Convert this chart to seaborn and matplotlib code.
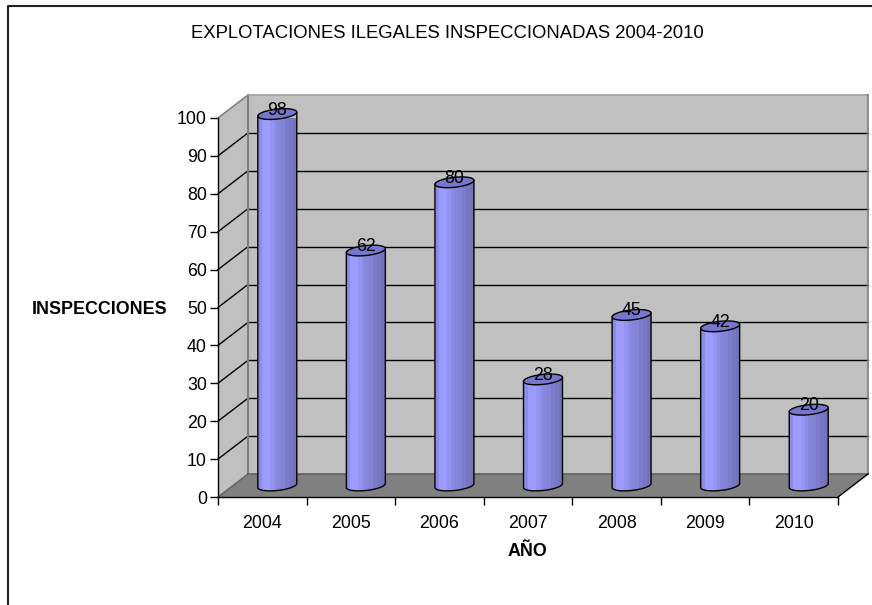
import numpy as np
import seaborn as sns
import matplotlib.pyplot as plt
from matplotlib.lines import Line2D
from matplotlib.patches import Polygon
from matplotlib.transforms import IdentityTransform

years = ["2004", "2005", "2006", "2007", "2008", "2009", "2010"]
values = [98, 62, 80, 28, 45, 42, 20]
y_ticks = list(range(0, 101, 10))

title = "EXPLOTACIONES ILEGALES INSPECCIONADAS 2004-2010"
xlabel = "AÑO"
ylabel = "INSPECCIONES"

W, H = 872, 605
DX, DY = 30, 23  # depth of the fake 3d box, pixels
LEFT, RIGHT, BOTTOM, TOP = 218, 838, 497, 118  # front plane, image pixels

sns.set_style("white")
plt.rcParams["font.family"] = ["Liberation Sans", "DejaVu Sans"]
plt.rcParams["font.size"] = 12
plt.rcParams["text.color"] = "black"
plt.rcParams["xtick.color"] = "black"
plt.rcParams["ytick.color"] = "black"

fig = plt.figure(figsize=(W / 100, H / 100), dpi=100)
ax = fig.add_axes([LEFT / W, 1 - BOTTOM / H, (RIGHT - LEFT) / W, (BOTTOM - TOP) / H])
ax.patch.set_alpha(0)


def px(x, y):
    # image pixels (y down) to display coords
    return (x, H - y)


def poly(points, **kw):
    p = Polygon([px(*q) for q in points], closed=True, transform=IdentityTransform(),
                clip_on=False, **kw)
    ax.add_patch(p)
    return p


def line(x0, y0, x1, y1, color="black", lw=1.0, zorder=1):
    ax.plot([x0, x1], [H - y0, H - y1], transform=IdentityTransform(), color=color,
            lw=lw, clip_on=False, zorder=zorder, solid_capstyle="projecting")


sns.barplot(x=years, y=values, width=0.44, color="#9999ff", saturation=1, ax=ax, zorder=3)
ax.set_xlim(-0.5, 6.5)
ax.set_ylim(0, 100)

# walls and floor
wall = "#c0c0c0"
poly([(LEFT, BOTTOM), (LEFT, TOP), (LEFT + DX, TOP - DY), (LEFT + DX, BOTTOM - DY)],
     facecolor=wall, edgecolor="none", zorder=0)
poly([(LEFT + DX, BOTTOM - DY), (LEFT + DX, TOP - DY), (RIGHT + DX, TOP - DY), (RIGHT + DX, BOTTOM - DY)],
     facecolor=wall, edgecolor="none", zorder=0)
poly([(LEFT, BOTTOM), (LEFT + DX, BOTTOM - DY), (RIGHT + DX, BOTTOM - DY), (RIGHT, BOTTOM)],
     facecolor="#808080", edgecolor="none", zorder=0)

# gridlines on both walls
for v in y_ticks[1:-1]:
    yy = BOTTOM - (BOTTOM - TOP) * v / 100
    line(LEFT, yy, LEFT + DX, yy - DY, zorder=1)
    line(LEFT + DX, yy - DY, RIGHT + DX, yy - DY, zorder=1)

# box edges
edge = "#808080"
line(LEFT + DX, BOTTOM - DY, LEFT + DX, TOP - DY, color=edge, lw=1.5, zorder=2)
line(LEFT, TOP, LEFT + DX, TOP - DY, color=edge, lw=1.2, zorder=2)
line(LEFT + DX, TOP - DY, RIGHT + DX, TOP - DY, color="#a0a0a0", lw=1.2, zorder=2)
line(RIGHT + DX, TOP - DY, RIGHT + DX, BOTTOM - DY, color=edge, lw=1.2, zorder=2)
line(LEFT, BOTTOM, LEFT + DX, BOTTOM - DY, color="#606060", lw=1.0, zorder=2)
line(LEFT + DX, BOTTOM - DY, RIGHT + DX, BOTTOM - DY, color="#606060", lw=1.2, zorder=2)
line(RIGHT, BOTTOM, RIGHT + DX, BOTTOM - DY, color="black", lw=1.0, zorder=2)

# turn the flat seaborn bars into cylinders sitting mid depth
shade = np.array([0.90, 1.0, 1.0, 0.95, 0.90, 0.86, 0.84, 0.80, 0.76, 0.74])
base_rgb = np.array([0x9c, 0x9c, 0xff]) / 255
tint = (base_rgb[None, :] * shade[:, None])[None, :, :]
t = np.linspace(0, 2 * np.pi, 60)
front = t <= np.pi


def rim(cy):
    # slightly skewed ellipse, right side sits higher
    return cy + 5 * np.sin(t) - 2 * np.cos(t)


for bar, v in zip(ax.patches, values):
    x0, _ = ax.transData.transform((bar.get_x(), 0))
    x1, _ = ax.transData.transform((bar.get_x() + bar.get_width(), 0))
    x0, x1 = x0 + DX / 2, x1 + DX / 2
    cx, r = (x0 + x1) / 2, (x1 - x0) / 2
    base = BOTTOM - DY / 2
    top = base - (BOTTOM - TOP) * bar.get_height() / 100
    bar.set_visible(False)

    ex = cx + r * np.cos(t)
    body_pts = [(x0, top + 2), (x1, top - 2)] + list(zip(ex[front], rim(base)[front]))
    poly(body_pts, facecolor="none", edgecolor="black", lw=1.0, zorder=5)
    img = ax.imshow(tint, extent=(x0, x1, H - base - 7, H - top + 7), transform=IdentityTransform(),
                    aspect="auto", interpolation="nearest", zorder=4)
    img.set_clip_path(Polygon([px(*q) for q in body_pts], closed=True, transform=IdentityTransform()))
    poly(list(zip(ex, rim(top))), facecolor="#7676cc", edgecolor="black", lw=1.0, zorder=6)
    ax.text(cx, H - top + 4, str(v), ha="center", va="center", fontsize=12.8,
            transform=IdentityTransform(), zorder=7, clip_on=False)

ax.set_xlim(-0.5, 6.5)
ax.set_ylim(0, 100)

# axes
for name in ["top", "right"]:
    ax.spines[name].set_visible(False)
for name in ["left", "bottom"]:
    ax.spines[name].set_color("black")
    ax.spines[name].set_linewidth(1.0)
    ax.spines[name].set_zorder(3)
ax.set_yticks(y_ticks)
ax.set_xticks(np.arange(-0.5, 7), minor=True)
ax.tick_params(axis="x", which="major", length=0, pad=13, labelsize=12.8)
ax.tick_params(axis="x", which="minor", length=6, width=1.0, bottom=True)
ax.tick_params(axis="y", length=6, width=1.0, left=True, pad=2, labelsize=12.8)

fig.text(447 / W, 1 - 33 / H, title, ha="center", va="center", fontsize=13.3)
fig.text(527 / W, 1 - 551 / H, xlabel, ha="center", va="center", fontsize=12.9, fontweight="bold")
fig.text(99.5 / W, 1 - 309 / H, ylabel, ha="center", va="center", fontsize=12.9, fontweight="bold")

# chart border, only top and left are inside the picture
fig.add_artist(Line2D([8 / W, 8 / W, 1], [0, 1 - 5.5 / H, 1 - 5.5 / H], transform=fig.transFigure,
                      color="#222222", lw=1.5))

fig.savefig("out.png", dpi=100)
